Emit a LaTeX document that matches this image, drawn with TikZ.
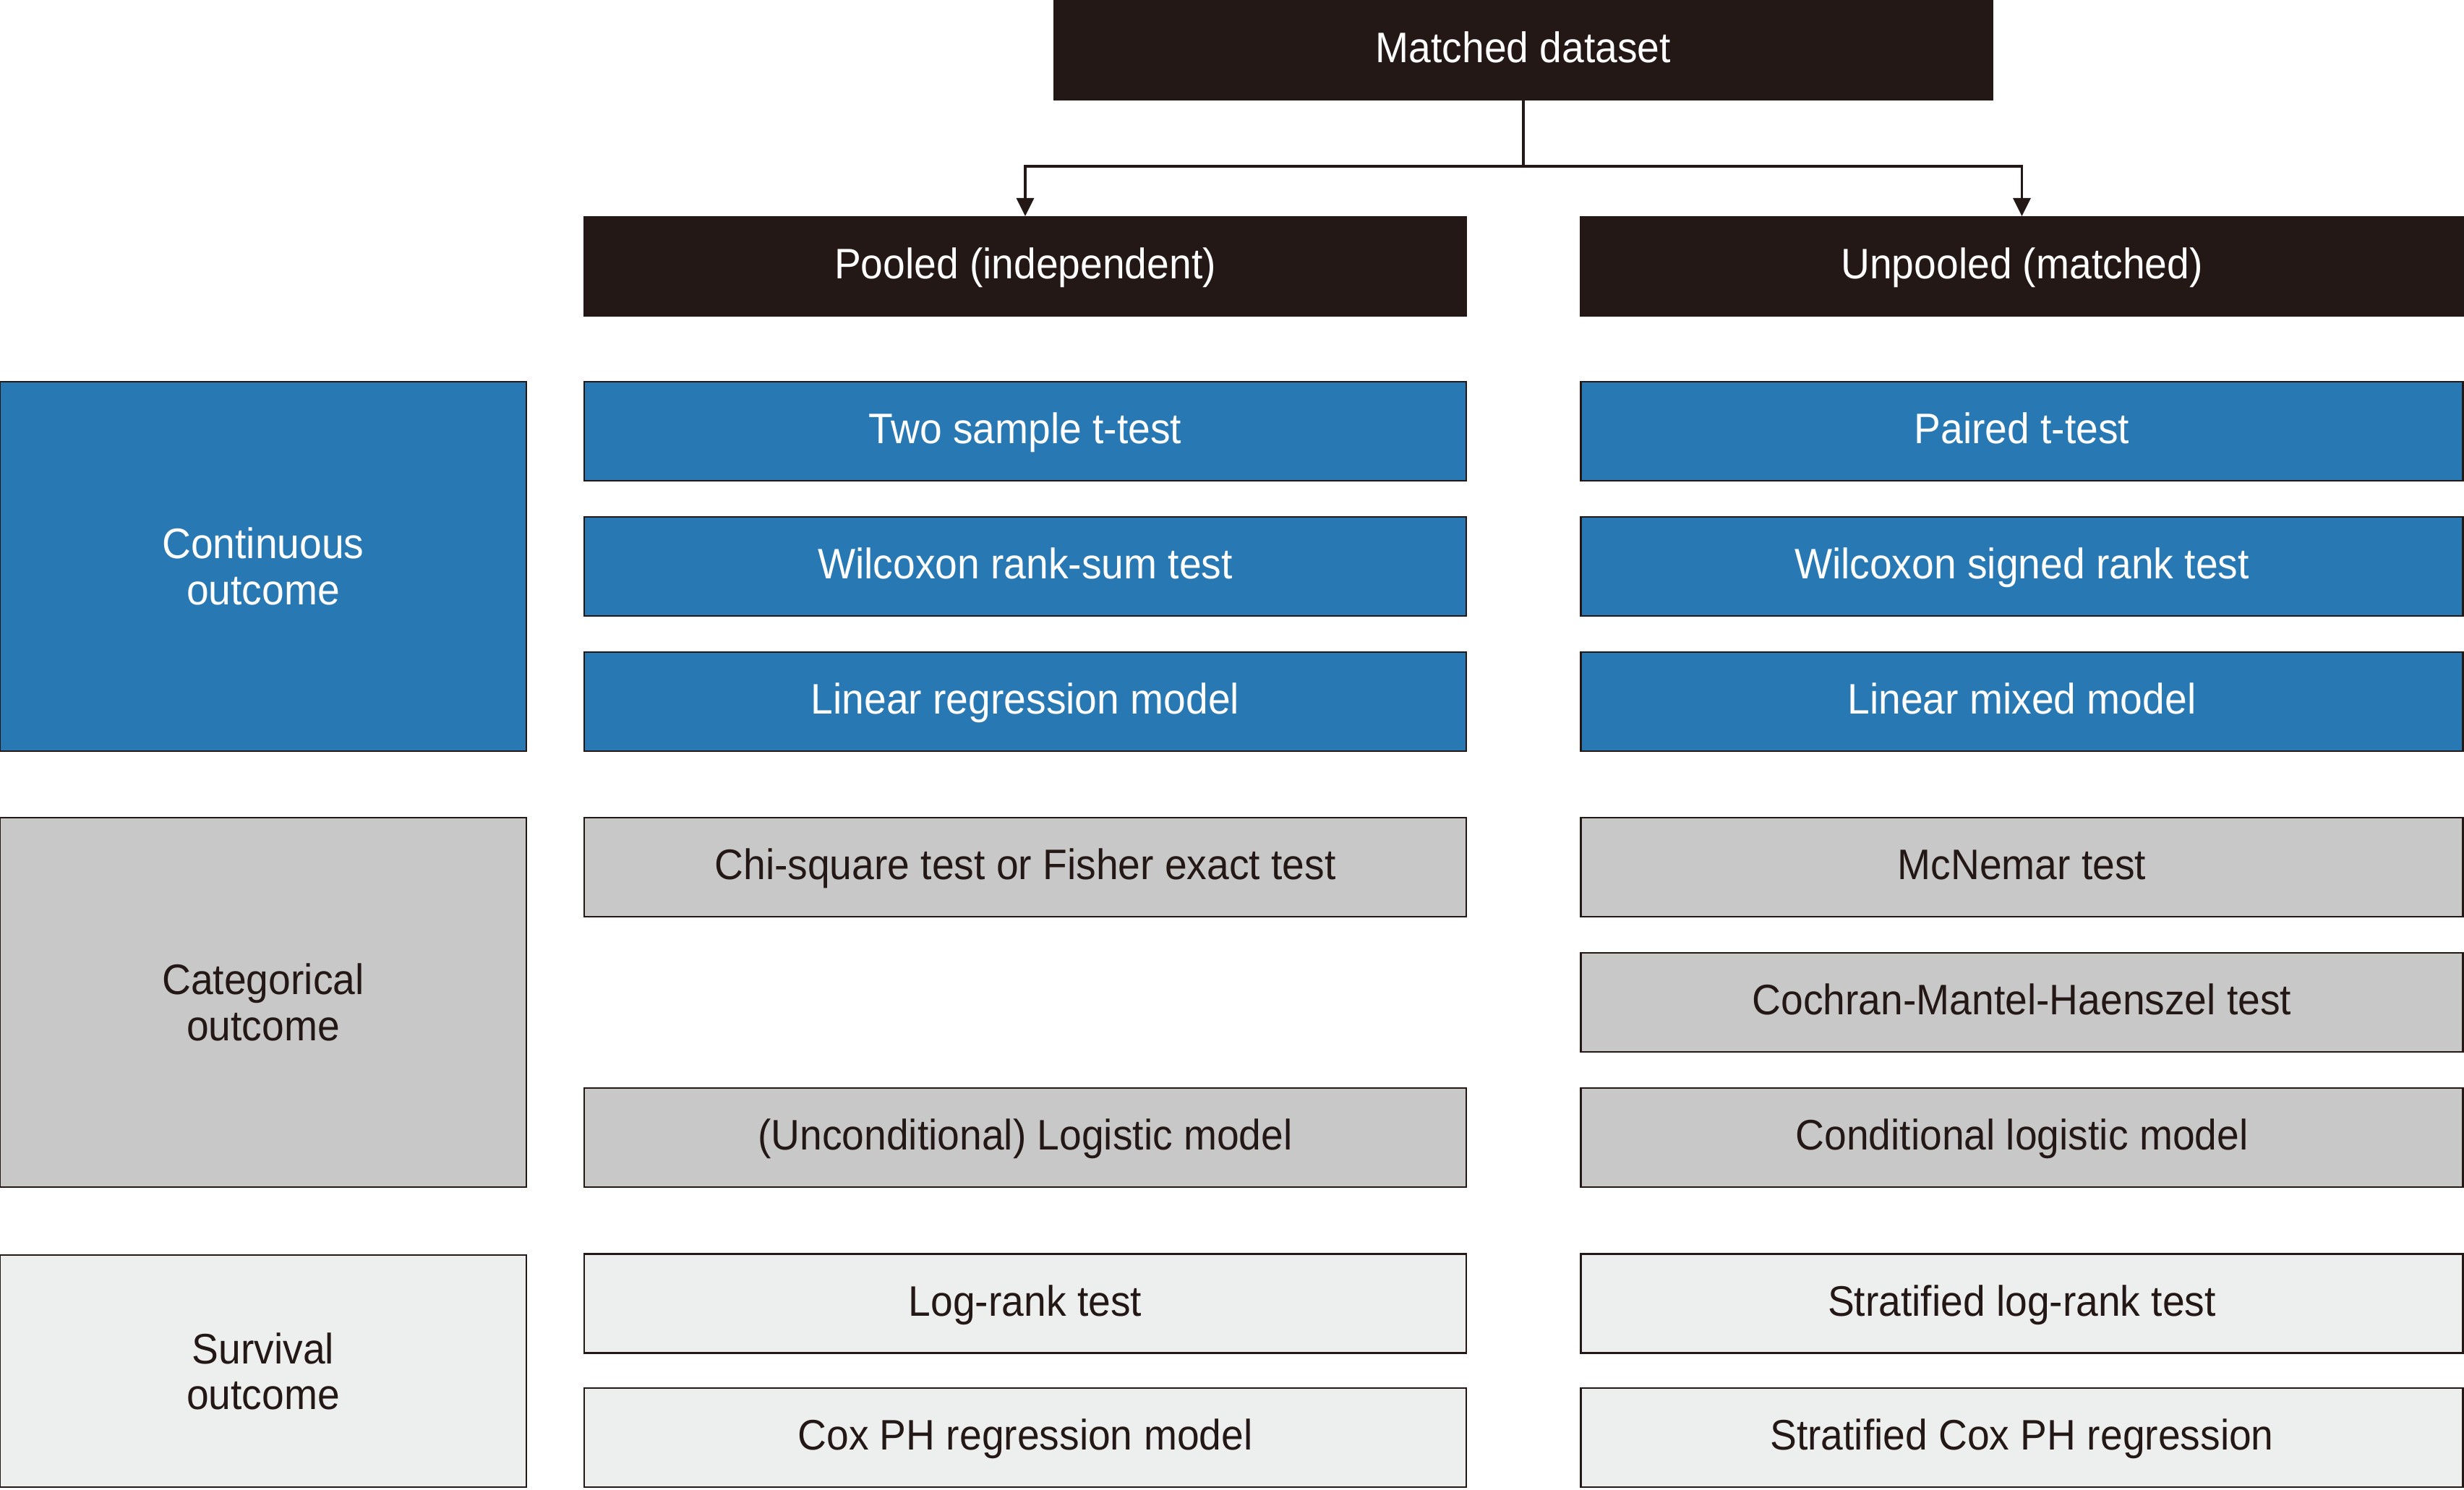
\documentclass[tikz,border=0pt]{standalone}
\usepackage{fontspec}
\setmainfont{Liberation Sans}[FakeStretch=0.935]
\usetikzlibrary{positioning,arrows.meta}

\definecolor{darkbox}{HTML}{231816}
\definecolor{bluebox}{HTML}{2878B4}
\definecolor{graybox}{HTML}{C8C8C8}
\definecolor{lightbox}{HTML}{EDEFEF}

\tikzset{
  box/.style={draw=darkbox, line width=0.6pt, minimum width=12.2cm,
    minimum height=1.37cm, inner sep=0pt, align=center,
    text height=9.8pt, text depth=0pt,
    font=\fontsize{16.8}{18}\selectfont},
  head/.style={box, fill=darkbox, text=white},
  cont/.style={box, fill=bluebox, text=white},
  catg/.style={box, fill=graybox, text=darkbox},
  surv/.style={box, fill=lightbox, text=darkbox},
  outc/.style={minimum width=7.28cm, text height={}, text depth={}},
}

\begin{document}
\begin{tikzpicture}[node distance=1.87cm, on grid,
    >={Triangle[length=2.5mm,width=2.4mm]}, line width=0.95pt]
  \useasboundingbox (0,0) rectangle (34.08,-20.60);

  \node[head, minimum width=12.98cm] (md) at (21.07,-0.695) {Matched dataset};
  \node[head] (pl) at (14.18,-3.685) {Pooled (independent)};
  \node[head] (up) [right=13.785cm of pl] {Unpooled (matched)};

  % continuous
  \node[cont] (p1) [below=2.28cm of pl] {Two sample t-test};
  \node[cont] (p2) [below=of p1] {Wilcoxon rank-sum test};
  \node[cont] (p3) [below=of p2] {Linear regression model};
  \node[cont] (u1) [below=2.28cm of up] {Paired t-test};
  \node[cont] (u2) [below=of u1] {Wilcoxon signed rank test};
  \node[cont] (u3) [below=of u2] {Linear mixed model};

  % categorical
  \node[catg] (p4) [below=2.29cm of p3] {Chi-square test or Fisher exact test};
  \node[catg] (p5) [below=3.74cm of p4] {(Unconditional) Logistic model};
  \node[catg] (u4) [below=2.29cm of u3] {McNemar test};
  \node[catg] (u5) [below=of u4] {Cochran-Mantel-Haenszel test};
  \node[catg] (u6) [below=of u5] {Conditional logistic model};

  % survival
  \node[surv] (p6) [below=2.295cm of p5] {Log-rank test};
  \node[surv] (p7) [below=1.855cm of p6] {Cox PH regression model};
  \node[surv] (u7) [below=2.295cm of u6] {Stratified log-rank test};
  \node[surv] (u8) [below=1.855cm of u7] {Stratified Cox PH regression};

  % outcome boxes
  \node[cont, outc, minimum height=5.11cm] (co) [left=10.54cm of p2] {Continuous\\outcome};
  \node[catg, outc, minimum height=5.11cm] (ca) [left=24.325cm of u5] {Categorical\\outcome};
  \node[surv, outc, minimum height=3.21cm] (su) [left=10.54cm of p6, yshift=-0.935cm] {Survival\\outcome};

  \draw[->, darkbox] (md.south) -- ++(0,-0.91) -| (pl.north);
  \draw[->, darkbox] (md.south) -- ++(0,-0.91) -| (up.north);
\end{tikzpicture}
\end{document}
